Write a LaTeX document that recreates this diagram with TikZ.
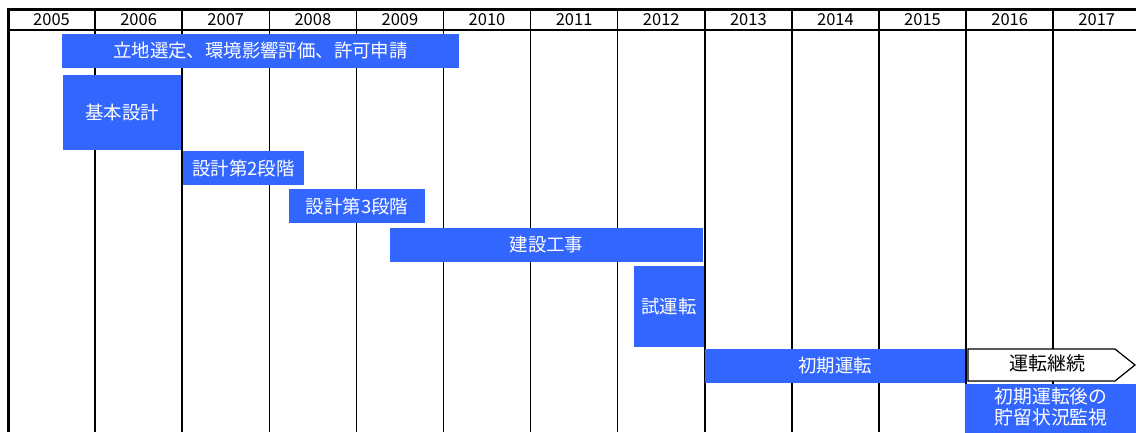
\documentclass[tikz,border=0pt]{standalone}
\usepackage{fontspec}
\setmainfont{Noto Sans CJK JP}
\definecolor{barblue}{HTML}{3366FF}
\tikzset{
  bar/.style={fill=barblue, draw=none, inner sep=0pt, outer sep=0pt, anchor=north west,
    text=white, font=\fontsize{18.4}{21}\selectfont, align=center},
  yearlbl/.style={font=\fontsize{16.5}{18}\selectfont, inner sep=0pt},
  gridline/.style={line width=1.5pt, black},
  contbox/.style={draw=black, line width=1.2pt, fill=white},
}
\begin{document}
\begin{tikzpicture}[x=1pt,y=-1pt]
\useasboundingbox (0,0) rectangle (1136,432);
\clip (0,0) rectangle (1136,432);
% grid
\foreach \k in {1,...,12} {
  \draw[gridline] (8+87.1*\k,9) -- (8+87.1*\k,432);
}
\draw[line width=3pt] (8.5,9) -- (8.5,432);
\draw[line width=2.5pt] (7,9.5) -- (1140,9.5);
\draw[line width=2pt] (8,30) -- (1140,30);
\foreach \y [count=\i from 0] in {2005,2006,2007,2008,2009,2010,2011,2012,2013,2014,2015,2016,2017} {
  \node[yearlbl] (y\y) at (8+87.1*\i+43.55,19.8) {\y};
}
% bars
\node[bar, minimum width=397pt, minimum height=34pt] (siting) at (62,34) {立地選定、環境影響評価、許可申請};
\node[bar, minimum width=118pt, minimum height=75pt] (basic) at (63,75) {基本設計};
\node[bar, minimum width=121pt, minimum height=34pt] (d2) at (183,151) {設計第2段階};
\node[bar, minimum width=136pt, minimum height=34pt] (d3) at (289,189) {設計第3段階};
\node[bar, minimum width=313pt, minimum height=34pt] (constr) at (390,228) {建設工事};
\node[bar, minimum width=70pt, minimum height=81pt] (trial) at (634,266) {試運転};
\node[bar, minimum width=260pt, minimum height=34pt] (initial) at (705,349) {初期運転};
\node[bar, minimum width=180pt, minimum height=60pt] (monitor) at (965,384) {};
\node[text=white, font=\fontsize{18.8}{20.5}\selectfont, align=center, inner sep=0pt] (montext) at (1051,407) {初期運転後の\\貯留状況監視};
% continuation arrow
\draw[contbox] (968,349) -- (1115,349) -- (1135,365) -- (1115,381) -- (968,381) -- cycle;
\node[font=\fontsize{19}{21}\selectfont, text=black, inner sep=0pt] (cont) at (1047,363) {運転継続};
\end{tikzpicture}
\end{document}
